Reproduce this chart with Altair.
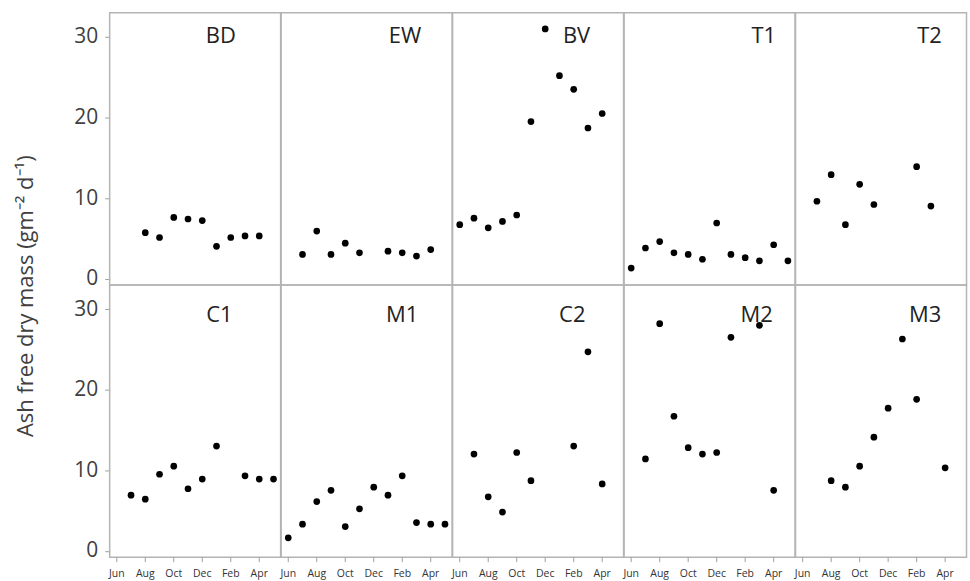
import altair as alt
import pandas as pd

sites = ["BD", "EW", "BV", "T1", "T2", "C1", "M1", "C2", "M2", "M3"]
# month index: 0 = Jun, 1 = Jul, ... 11 = May
BD_m = [2, 3, 4, 5, 6, 7, 8, 9, 10]
BD_v = [5.7, 5.1, 7.6, 7.4, 7.2, 4.0, 5.1, 5.3, 5.3]
EW_m = [1, 2, 3, 4, 5, 7, 8, 9, 10]
EW_v = [3.0, 5.9, 3.0, 4.4, 3.2, 3.4, 3.2, 2.8, 3.6]
BV_m = [0, 1, 2, 3, 4, 5, 6, 7, 8, 9, 10]
BV_v = [6.7, 7.5, 6.3, 7.1, 7.9, 19.5, 31.0, 25.2, 23.5, 18.7, 20.5]
T1_m = [0, 1, 2, 3, 4, 5, 6, 7, 8, 9, 10, 11]
T1_v = [1.3, 3.8, 4.6, 3.2, 3.0, 2.4, 6.9, 3.0, 2.6, 2.2, 4.2, 2.2]
T2_m = [1, 2, 3, 4, 5, 8, 9]
T2_v = [9.6, 12.9, 6.7, 11.7, 9.2, 13.9, 9.0]
C1_m = [1, 2, 3, 4, 5, 6, 7, 9, 10, 11]
C1_v = [6.9, 6.4, 9.5, 10.5, 7.7, 8.9, 13.0, 9.3, 8.9, 8.9]
M1_m = [0, 1, 2, 3, 4, 5, 6, 7, 8, 9, 10, 11]
M1_v = [1.6, 3.3, 6.1, 7.5, 3.0, 5.2, 7.9, 6.9, 9.3, 3.5, 3.3, 3.3]
C2_m = [1, 2, 3, 4, 5, 8, 9, 10]
C2_v = [12.0, 6.7, 4.8, 12.2, 8.7, 13.0, 24.7, 8.3]
M2_m = [1, 2, 3, 4, 5, 6, 7, 9, 10]
M2_v = [11.4, 28.2, 16.7, 12.8, 12.0, 12.2, 26.5, 28.0, 7.5]
M3_m = [2, 3, 4, 5, 6, 7, 8, 10]
M3_v = [8.7, 7.9, 10.5, 14.1, 17.7, 26.3, 18.8, 10.3]

tick_months = [0, 2, 4, 6, 8, 10]
tick_names = ["Jun", "Aug", "Oct", "Dec", "Feb", "Apr"]
y_ticks = [0, 10, 20, 30]
y_title = "Ash free dry mass (gm⁻² d⁻¹)"

# panel-name anchors (month index, value)
label_x = [7.3, 8.2, 8.2, 9.3, 8.9, 7.2, 8.0, 7.9, 8.8, 8.6]
label_y = [30.1, 30.1, 30.1, 30.1, 30.1, 29.25, 29.25, 29.25, 29.25, 29.25]

series = {
    "BD": (BD_m, BD_v), "EW": (EW_m, EW_v), "BV": (BV_m, BV_v),
    "T1": (T1_m, T1_v), "T2": (T2_m, T2_v), "C1": (C1_m, C1_v),
    "M1": (M1_m, M1_v), "C2": (C2_m, C2_v), "M2": (M2_m, M2_v),
    "M3": (M3_m, M3_v),
}

PW, PH = 171.5, 273

rows = []
for i, s in enumerate(sites):
    ms, vs = series[s]
    for m, v in zip(ms, vs):
        rows.append({"site": s, "r": i // 5, "c": i % 5, "month": m, "value": v,
                     "kind": "pt", "txt": ""})
for i, (s, lx, ly) in enumerate(zip(sites, label_x, label_y)):
    rows.append({"site": s, "r": i // 5, "c": i % 5, "month": lx, "value": ly,
                 "kind": "lbl", "txt": s})
# month tick labels under the bottom row of panels
for i, s in enumerate(sites):
    if i // 5 == 1:
        for m, n in zip(tick_months, tick_names):
            rows.append({"site": s, "r": 1, "c": i % 5, "month": m, "value": 0,
                         "kind": "tick", "txt": n})
df = pd.DataFrame(rows)

x_scale = alt.Scale(domain=[-0.5, 11.5], nice=False, zero=False)

y_enc = alt.Y(
    "value:Q",
    scale=alt.Scale(domain=[-0.8, 33], nice=False, zero=False),
    axis=alt.Axis(values=y_ticks, title=None,
                  grid=False, domain=False, tickColor="#a0a0a0", tickSize=5,
                  labelFontSize=21, labelColor="#404040", labelPadding=7,
                  labelFont="Open Sans"),
)

points = alt.Chart().mark_circle(size=45, color="black", opacity=1).encode(
    x=alt.X("month:Q", scale=x_scale, axis=None), y=y_enc
).transform_filter("datum.kind == 'pt'")

labels = alt.Chart().mark_text(
    fontSize=22, font="Open Sans", color="#222222", align="center", baseline="middle"
).encode(
    x=alt.X("month:Q"), y=alt.Y("value:Q"), text="txt:N"
).transform_filter("datum.kind == 'lbl'")

xticks = alt.Chart().mark_rule(color="#a0a0a0", strokeWidth=1).encode(
    x=alt.X("month:Q"), y=alt.value(PH), y2=alt.value(PH + 5)
).transform_filter("datum.kind == 'tick'")

xlabels = alt.Chart().mark_text(
    fontSize=10.5, font="Open Sans", color="#333333", align="center", baseline="middle"
).encode(
    x=alt.X("month:Q"), y=alt.value(PH + 17), text="txt:N"
).transform_filter("datum.kind == 'tick'")

hdr = alt.Header(labels=False, labelPadding=0, titlePadding=0)

chart = alt.layer(points, labels, xticks, xlabels, data=df).properties(
    width=PW, height=PH
).facet(
    row=alt.Row("r:O", header=hdr, title=None),
    column=alt.Column("c:O", header=hdr, title=None),
    spacing=0,
    bounds="flush",
).properties(
    title=alt.TitleParams(text=y_title, orient="left", anchor="middle",
                          font="Open Sans", fontSize=22, fontWeight="normal",
                          color="#404040", offset=36),
    padding={"left": 14, "top": 11, "right": 2, "bottom": 2},
    background="white",
).configure_view(
    stroke="#b4b4b4", strokeWidth=1.5
).configure_header(
    labels=False
)

chart.save("out.html", embed_options={"renderer": "svg", "actions": False})
